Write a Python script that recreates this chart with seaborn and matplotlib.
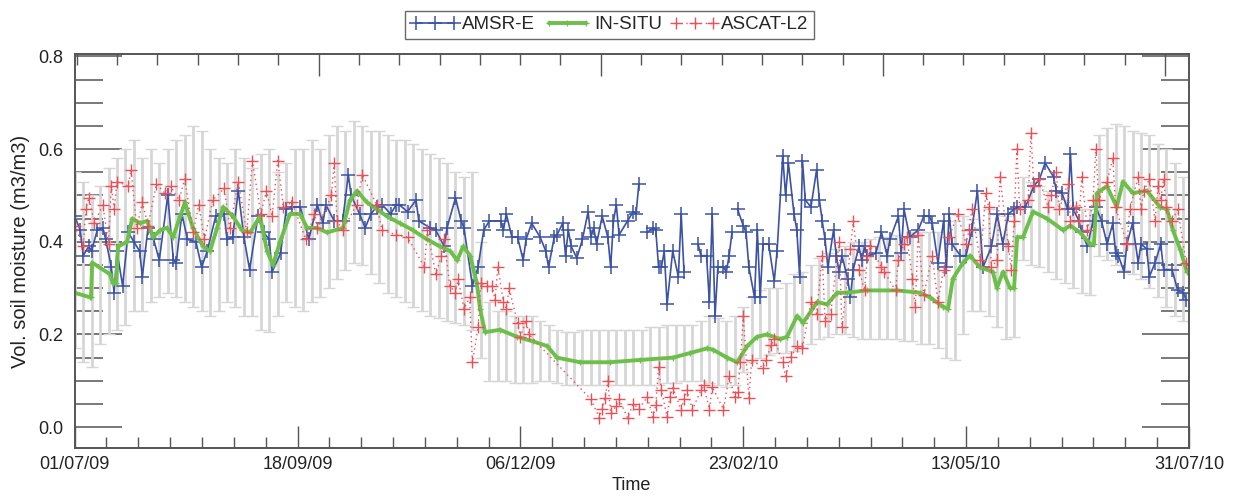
import numpy as np
import matplotlib
matplotlib.use("Agg")
import matplotlib.pyplot as plt
import seaborn as sns

sns.set_theme(style="white")
plt.rcParams['font.family'] = ['Liberation Sans', 'DejaVu Sans']

# days since 01/07/09
date_labels = ['01/07/09', '18/09/09', '06/12/09', '23/02/10', '13/05/10', '31/07/10']
date_days = [0, 79, 158, 237, 316, 395]

# in-situ network mean
situ_day = [0, 5.5, 5.8, 6.2, 12.5, 13.6, 14.7, 15.4, 18.6, 20.4, 23.2, 25.7, 27.8, 30.3,
            32.7, 34.9, 37.4, 39.1, 41.9, 45.5, 48.0, 50.5, 52.6, 56.1, 59.3, 62.2, 65.7, 68.2,
            70.3, 72.8, 76.3, 79.9, 82.4, 85.9, 89.5, 95.1, 97.6, 100.1, 103.6, 107.2, 110.7,
            115.3, 119.9, 124.9, 129.5, 133.1, 135.6, 137.7, 140.2, 142.6, 143.7, 145.5, 150.8,
            156.8, 162.5, 167.5, 171.0, 179.2, 189.8, 200.4, 212.1, 218.2, 224.2, 226.3, 231.3,
            234.8, 238.4, 241.9, 245.4, 250.1, 252.5, 256.1, 258.2, 263.2, 266.7, 270.3, 273.8,
            280.9, 291.5, 299.7, 303.2, 307.8, 309.6, 311.3, 314.9, 317.4, 320.9, 325.5, 326.9,
            329.1, 331.6, 333.0, 334.1, 336.2, 339.7, 344.7, 350.4, 352.9, 356.4, 360.0, 361.3,
            362.4, 365.9, 369.4, 371.6, 375.1, 380.1, 384.7, 387.2, 389.3, 391.8, 394.3]
situ_val = [0.29, 0.28, 0.28, 0.355, 0.33, 0.31, 0.31, 0.39, 0.40, 0.45, 0.44, 0.445, 0.41, 0.425,
            0.43, 0.41, 0.455, 0.485, 0.43, 0.39, 0.38, 0.43, 0.475, 0.455, 0.425, 0.42, 0.455, 0.38,
            0.35, 0.40, 0.46, 0.46, 0.43, 0.43, 0.42, 0.43, 0.49, 0.51, 0.485, 0.47, 0.455,
            0.44, 0.425, 0.405, 0.39, 0.38, 0.36, 0.39, 0.37, 0.31, 0.255, 0.205, 0.21,
            0.195, 0.185, 0.175, 0.15, 0.14, 0.14, 0.145, 0.15, 0.16, 0.17, 0.167, 0.15,
            0.14, 0.175, 0.195, 0.20, 0.19, 0.195, 0.24, 0.225, 0.27, 0.265, 0.29, 0.29,
            0.295, 0.295, 0.29, 0.28, 0.26, 0.255, 0.32, 0.355, 0.37, 0.345, 0.335, 0.30,
            0.335, 0.30, 0.30, 0.41, 0.41, 0.465, 0.45, 0.425, 0.435, 0.42, 0.395, 0.395,
            0.505, 0.52, 0.475, 0.53, 0.505, 0.51, 0.475, 0.47, 0.425, 0.385, 0.335]

# spread of the in-situ network, every 3 days
err_day = np.arange(0, 394, 3)
err_hi = [0.55, 0.53, 0.50, 0.52, 0.56,
          0.58, 0.60, 0.62, 0.58, 0.60, 0.57, 0.60, 0.62,
          0.63, 0.65, 0.64, 0.60, 0.58,
          0.57, 0.60, 0.58, 0.56, 0.59, 0.60, 0.55, 0.57, 0.60,
          0.60, 0.62, 0.60, 0.63, 0.65, 0.64, 0.66,
          0.65, 0.64, 0.64, 0.63, 0.62, 0.62, 0.61, 0.60, 0.59,
          0.58, 0.57, 0.55, 0.54, 0.55,
          0.40,
          0.27, 0.25, 0.25, 0.24, 0.24, 0.24,
          0.23, 0.22, 0.21, 0.205, 0.205, 0.21, 0.21, 0.21, 0.21, 0.21, 0.21, 0.21,
          0.21, 0.215, 0.215, 0.22, 0.22, 0.22, 0.22, 0.23, 0.24, 0.235, 0.23,
          0.24, 0.26, 0.28, 0.295, 0.30, 0.30, 0.31, 0.33, 0.335,
          0.35, 0.365, 0.375, 0.385, 0.39, 0.40, 0.40, 0.405, 0.41, 0.41, 0.415, 0.41, 0.42, 0.42,
          0.42, 0.42, 0.41, 0.445, 0.455, 0.45, 0.43, 0.47, 0.46, 0.455,
          0.47, 0.54, 0.53, 0.52, 0.51, 0.50, 0.49, 0.48, 0.47, 0.47,
          0.63, 0.645, 0.655, 0.65, 0.64, 0.635, 0.63, 0.61, 0.60, 0.57, 0.54]
err_lo = [0.17, 0.14, 0.13, 0.18, 0.20,
          0.21, 0.22, 0.25, 0.25, 0.27, 0.28, 0.29, 0.28,
          0.27, 0.26, 0.25, 0.24, 0.25,
          0.27, 0.26, 0.24, 0.24, 0.21, 0.205, 0.24, 0.27, 0.26,
          0.25, 0.27, 0.28, 0.30, 0.32, 0.34, 0.355,
          0.35, 0.33, 0.31, 0.29, 0.28, 0.27, 0.26, 0.25, 0.24,
          0.235, 0.23, 0.225, 0.22, 0.21,
          0.15,
          0.10, 0.10, 0.10, 0.095, 0.095, 0.095,
          0.10, 0.10, 0.095, 0.09, 0.09, 0.09, 0.09, 0.09, 0.09, 0.09, 0.09, 0.09,
          0.09, 0.09, 0.09, 0.095, 0.095, 0.10, 0.10, 0.10, 0.095, 0.09, 0.087,
          0.09, 0.12, 0.14, 0.15, 0.155, 0.16, 0.16, 0.165, 0.17,
          0.18, 0.19, 0.195, 0.20, 0.20, 0.195, 0.19, 0.19, 0.19, 0.19, 0.19, 0.185, 0.185, 0.18,
          0.18, 0.17, 0.15, 0.145, 0.20, 0.25, 0.25, 0.24, 0.215, 0.19,
          0.195, 0.36, 0.35, 0.345, 0.335, 0.32, 0.31, 0.30, 0.29, 0.285,
          0.37, 0.36, 0.35, 0.34, 0.33, 0.32, 0.30, 0.28, 0.26, 0.24, 0.23]

# AMSR-E (None = no retrieval, breaks the line)
amsr_day = [0, 2, 3, 5, 6, 8, 10, 11, 13, 14, 15, 17, 19, 21, 23, 24, 26, 28, 30, 33,
            35, 36, 38, 40, 43, 45, 47, 50, 53, 54, 56, 58, 60, 62, 65, 67, 69, 70, 73, 75, 77,
            80, 83, 86, 88, 89, 92, 95, 97, 98, 101, 103, 105, 107, 109, 112, 114, 115, 118,
            121, 122, 126, 128, 131, 132, 135, 137, 138, 141, 143, 145, 147, 151, 152, 153,
            155, 157, 159, 160, 162,
            165, 167, 168, 170, 171, 173, 174, 175, 176, 178, 180, 182, 183, 184, 185, 187,
            189, 190, 191, 192, 193, 196, 198, 199, 200, None,
            203, 205, 206, 207, 208, 209, 210, 212, 214, 215, 216, None,
            221, 222, 224, 225, 226, 227, 228, 230, 231, 232, 233, None,
            235, 237, 238, 239, 241, 242, 243, 244, 246, 248, 249,
            251, 252, 253, 255, 256, 257, 258, 259, 261, 263, 264, 265, 266, 267, 269, 270,
            271, 272, 274, 275, 276, 278, 279, 280, 281, 284, 286, 288, 289, 292, 293, 294,
            296, 299, 301, 303, 304, 306, 308, 309, 310, 311, 314, 316, 318, 320, 322, 325, 327,
            329, 331, 333, 334, 337, 340, 342, 344, 347, 348, 350, 352, 353, 354, 356, 357,
            359, 361, 362, 364, 366, 368, 369, 370, 372, 373, 375, 377, 378, 380, 381, 383,
            385, 386, 389, 391, 393, 394]
amsr_val = [0.455, 0.425, 0.37, 0.39, 0.38, 0.425, 0.43, 0.405, 0.345, 0.29, 0.38, 0.305, 0.42, 0.40, 0.38, 0.325, 0.43, 0.405, 0.36, 0.50,
            0.36, 0.355, 0.46, 0.405, 0.40, 0.345, 0.38, 0.455, 0.46, 0.405, 0.41, 0.51, 0.41, 0.34, 0.455, 0.42, 0.405, 0.335, 0.375, 0.47, 0.475,
            0.475, 0.405, 0.48, 0.44, 0.48, 0.445, 0.445, 0.545, 0.50, 0.46, 0.43, 0.46, 0.475, 0.48, 0.46, 0.48, 0.48, 0.465,
            0.49, 0.445, 0.43, 0.425, 0.39, 0.43, 0.495, 0.445, 0.43, 0.305, 0.345, 0.425, 0.445, 0.445, 0.425, 0.46,
            0.41, 0.41, 0.36, 0.405, 0.44,
            0.41, 0.38, 0.345, 0.41, 0.415, 0.44, 0.37, 0.425, 0.39, 0.365, 0.405, 0.465, 0.41, 0.43, 0.395, 0.455,
            0.41, 0.345, 0.445, 0.48, 0.415, 0.445, 0.465, 0.46, 0.525, None,
            0.42, 0.43, 0.425, 0.345, 0.345, 0.38, 0.265, 0.38, 0.325, 0.46, 0.335, None,
            0.395, 0.37, 0.37, 0.27, 0.46, 0.24, 0.345, 0.345, 0.335, 0.37, 0.42, None,
            0.47, 0.435, 0.42, 0.345, 0.28, 0.425, 0.28, 0.395, 0.395, 0.315, 0.38,
            0.585, 0.50, 0.57, 0.46, 0.425, 0.325, 0.575, 0.49, 0.475, 0.555, 0.49, 0.445, 0.405, 0.345, 0.425, 0.37,
            0.335, 0.37, 0.32, 0.28, 0.34, 0.39, 0.36, 0.39, 0.37, 0.375, 0.42, 0.37, 0.405, 0.455, 0.375, 0.47,
            0.41, 0.425, 0.455, 0.455, 0.44, 0.355, 0.445, 0.345, 0.46, 0.395, 0.37, 0.37, 0.425, 0.51, 0.345, 0.39, 0.46,
            0.395, 0.46, 0.47, 0.475, 0.475, 0.52, 0.535, 0.57, 0.54, 0.51, 0.505, 0.47, 0.59, 0.47, 0.445, 0.42,
            0.39, 0.445, 0.475, 0.445, 0.395, 0.44, 0.375, 0.37, 0.335, 0.395, 0.44, 0.355, 0.395, 0.385, 0.325, 0.355,
            0.395, 0.34, 0.34, 0.295, 0.29, 0.275]

# ASCAT-L2
ascat_day = [0, 3, 4, 5, 7, 10, 12, 13, 14, 15, 19, 20, 22, 24, 26, 29, 32, 34, 37, 39,
             42, 44, 46, 49, 53, 55, 58, 61, 63, 66, 68, 70, 72, 74, 77, 82, 85, 86, 91, 92,
             93, 95, 100, 102, 107, 109, 114, 118, 124, 125, 128, 130, 131, 133, 135, 136, 138, 140, 141, 143,
             144, 146, 148, 149, 150, 152, 153, 154, 157, 158, 160, 161,
             183, 186, 187, 188, 189, 190, 192, 193, 196, 198, 200, 203, 205, 206, 207, 208, 210, 211, 212, 215,
             216, 217, 219, 222, 223, 225, 226, 230, 232, 234, 235, 236, 237, 239, 240, 244, 245, 247, 248,
             251, 252, 254, 256, 258, 261, 263, 265, 266, 268, 271, 272, 275, 276, 278, 280, 281, 282, 286, 287,
             291, 292, 294, 295, 297, 298, 299, 301, 304, 306, 308, 310, 313, 316, 317, 318, 321, 323, 324, 325,
             327, 328, 331, 332, 333, 334, 335, 338, 339, 340, 342, 345, 346, 348, 349, 352, 353, 355, 356, 357,
             359, 361, 362, 363, 366, 368, 369, 373, 374, 377, 378, 379, 381, 383, 384, 385, 386, 387, 389, 391,
             394]
ascat_val = [0.435, 0.39, 0.47, 0.495, 0.44, 0.48, 0.395, 0.52, 0.47, 0.53, 0.52, 0.555, 0.43, 0.485, 0.435, 0.525, 0.505, 0.52, 0.49, 0.535,
             0.42, 0.48, 0.405, 0.49, 0.515, 0.43, 0.53, 0.42, 0.575, 0.46, 0.51, 0.455, 0.575, 0.475, 0.485, 0.405, 0.46, 0.43, 0.50, 0.57,
             0.445, 0.425, 0.48, 0.545, 0.48, 0.425, 0.415, 0.41, 0.345, 0.425, 0.33, 0.37, 0.405, 0.305, 0.29, 0.32, 0.255, 0.28, 0.14, 0.215,
             0.31, 0.305, 0.305, 0.275, 0.345, 0.27, 0.255, 0.30, 0.225, 0.195, 0.23, 0.20,
             0.06, 0.02, 0.04, 0.063, 0.10, 0.03, 0.045, 0.06, 0.02, 0.05, 0.04, 0.065, 0.022, 0.048, 0.13, 0.08, 0.022, 0.065, 0.085, 0.038,
             0.06, 0.08, 0.038, 0.08, 0.09, 0.038, 0.087, 0.038, 0.11, 0.065, 0.075, 0.14, 0.24, 0.063, 0.145, 0.128, 0.145, 0.178, 0.19,
             0.14, 0.11, 0.152, 0.175, 0.17, 0.27, 0.245, 0.37, 0.23, 0.245, 0.40, 0.215, 0.385, 0.445, 0.34, 0.295, 0.37, 0.39, 0.345, 0.335,
             0.295, 0.36, 0.395, 0.41, 0.32, 0.26, 0.415, 0.285, 0.37, 0.27, 0.34, 0.41, 0.46, 0.395, 0.425, 0.47, 0.36, 0.505, 0.475, 0.345,
             0.36, 0.54, 0.39, 0.34, 0.445, 0.60, 0.47, 0.49, 0.635, 0.52, 0.535, 0.475, 0.50, 0.55, 0.47, 0.525, 0.445, 0.475, 0.445, 0.54,
             0.425, 0.49, 0.60, 0.49, 0.53, 0.58, 0.475, 0.395, 0.47, 0.54, 0.47, 0.51, 0.535, 0.445, 0.52, 0.49, 0.535, 0.475, 0.445, 0.47,
             0.355]

c_amsr = '#3c52a4'
c_situ = '#6cc04a'
c_ascat = '#f04e55'
c_err = '#d6d6d6'
c_axis = '#555555'

fig = plt.figure(figsize=(12.34, 4.96), dpi=100)
ax = fig.add_axes([0.0605, 0.0968, 0.9030, 0.7942])

lo = np.array(err_lo)
hi = np.array(err_hi)
ax.errorbar(err_day, (lo + hi) / 2, yerr=(hi - lo) / 2, fmt='none', ecolor=c_err,
            elinewidth=2.0, capsize=4.0, capthick=1.0, zorder=1)

amsr_x = np.array(amsr_day, dtype=float)
amsr_y = np.array(amsr_val, dtype=float)
l_amsr, = ax.plot(amsr_x, amsr_y, color=c_amsr, lw=1.2, marker='+', ms=10, mew=1.1, zorder=3)

sns.lineplot(x=situ_day, y=situ_val, ax=ax, color=c_situ, lw=2.8, marker='+', ms=4,
             mec=c_situ, mew=1.0, estimator=None, zorder=4)
l_situ = ax.lines[-1]

sns.lineplot(x=ascat_day, y=ascat_val, ax=ax, color=c_ascat, lw=1.0, linestyle=(0, (1, 2.5)),
             marker='+', ms=9, mec=c_ascat, mew=1.0, estimator=None, zorder=5)
l_ascat = ax.lines[-1]

ax.set_xlim(0, 395)
ax.set_ylim(-0.045, 0.805)
ax.set_xticks(date_days)
ax.set_xticklabels(date_labels)
ax.set_xticks(np.arange(0, 395, 79 / 7), minor=True)
ax.set_yticks([0.0, 0.2, 0.4, 0.6, 0.8])
ax.set_yticklabels(['0.0', '0.2', '0.4', '0.6', '0.8'])
ax.set_yticks(np.arange(0, 0.81, 0.05), minor=True)

ax.tick_params(axis='y', which='major', direction='in', left=True, right=True,
               length=34, width=1.1, color=c_axis, labelsize=13, pad=8, labelcolor='#222222')
ax.tick_params(axis='y', which='minor', direction='in', left=True, right=True,
               length=20, width=1.1, color=c_axis)
ax.tick_params(axis='x', which='major', direction='in', bottom=True, top=False,
               length=16, width=1.0, color=c_axis, labelsize=13, pad=6, labelcolor='#222222')
ax.tick_params(axis='x', which='minor', direction='in', bottom=True, top=False,
               length=8, width=1.0, color=c_axis)

# top axis: separate tick set (Julian day)
ax_top = ax.twiny()
ax_top.set_xlim(0, 395)
ax_top.set_xticks([86.5, 186.5, 286.5, 386.5])
ax_top.set_xticks([d for d in np.arange(86.5 - 6 * 100 / 7, 395, 100 / 7) if 0 < d < 395], minor=True)
ax_top.set_xticklabels([])
ax_top.tick_params(axis='x', which='major', direction='in', length=16, width=1.0, color=c_axis)
ax_top.tick_params(axis='x', which='minor', direction='in', length=8, width=1.0, color=c_axis)

for a in (ax, ax_top):
    for s in a.spines.values():
        s.set_color(c_axis)
        s.set_linewidth(1.2)

ax.set_ylabel('Vol. soil moisture (m3/m3)', fontsize=14.5, color='#222222', labelpad=6)
ax.set_xlabel('')
fig.text(0.512, 0.022, 'Time', ha='center', va='center', fontsize=13, color='#222222')

fig.legend([l_amsr, l_situ, l_ascat], ['AMSR-E', 'IN-SITU', 'ASCAT-L2'],
           loc='center', bbox_to_anchor=(0.494, 0.95), ncol=3, numpoints=3,
           handlelength=2.6, handletextpad=0.12, columnspacing=0.45, frameon=True,
           fancybox=False, edgecolor='#444444', fontsize=13.5, borderpad=0.3,
           borderaxespad=0.0)

fig.savefig('out.png', dpi=100)
